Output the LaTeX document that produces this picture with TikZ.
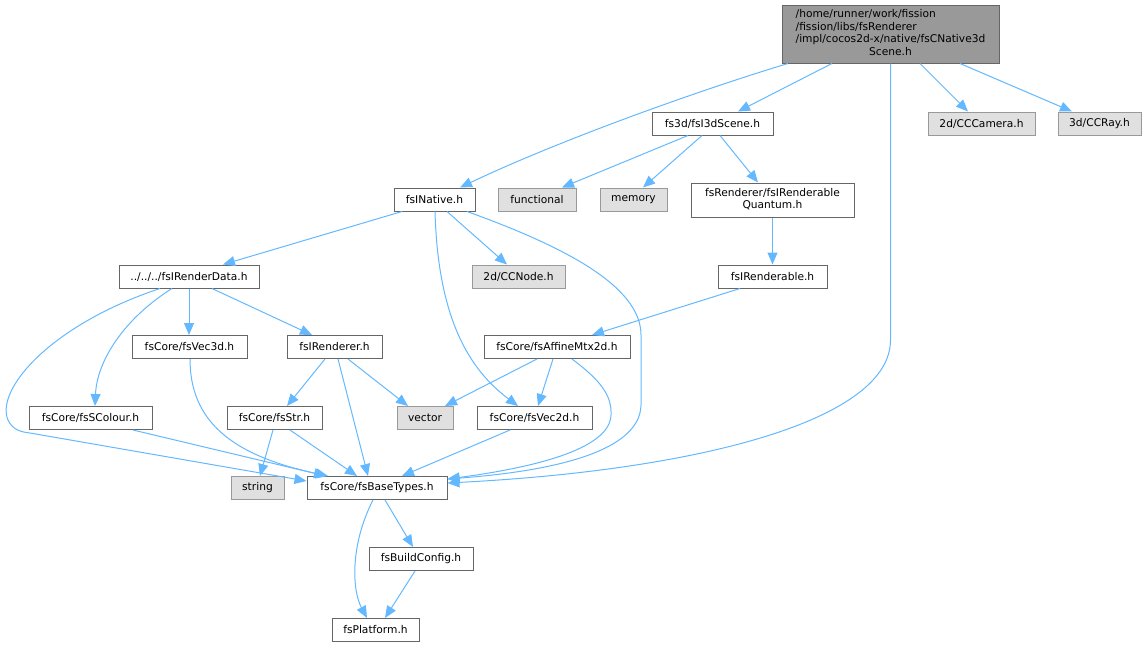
\documentclass[tikz,border=0pt]{standalone}
\usepackage{fontspec}
\setmainfont{DejaVu Sans}
\usetikzlibrary{arrows.meta,calc}
\definecolor{edgec}{HTML}{63B8FF}
\definecolor{bordc}{HTML}{666666}
\definecolor{gbord}{HTML}{999999}
\definecolor{gfill}{HTML}{E0E0E0}
\definecolor{rootfill}{HTML}{999999}
\tikzset{
  box/.style={draw=bordc, fill=white, line width=0.75pt, inner sep=0pt, text=black,
              font=\fontsize{8}{9.3}\selectfont},
  gbox/.style={box, draw=gbord, fill=gfill},
  rbox/.style={box, draw=bordc, fill=rootfill},
  sz/.style 2 args={minimum width=#1*0.75pt, minimum height=#2*0.75pt},
  e/.style={draw=edgec, line width=0.75pt, -{Triangle[length=9pt,width=7.5pt]}},
}
\begin{document}
\begin{tikzpicture}[x=0.75pt,y=-0.75pt]
\useasboundingbox (0,0) rectangle (1147,647);

% nodes
\node[rbox, sz={217}{58}] (root) at (890.5,34) {\begin{tabular}{@{}l@{}}/home/runner/work/fission\\/fission/libs/fsRenderer\\/impl/cocos2d-x/native/fsCNative3d\\\multicolumn{1}{@{}c@{}}{Scene.h}\end{tabular}};
\node[gbox, sz={107}{23}] (cam) at (981.5,123.5) {2d/CCCamera.h};
\node[gbox, sz={83}{23}] (ray) at (1099.5,123.5) {3d/CCRay.h};
\node[box, sz={121}{23}] (scene) at (712.5,123.5) {fs3d/fsI3dScene.h};
\node[box, sz={81}{23}] (native) at (434.5,199.5) {fsINative.h};
\node[gbox, sz={78}{23}] (functional) at (537,199.5) {functional};
\node[gbox, sz={67}{23}] (memory) at (633.5,199.5) {memory};
\node[box, sz={163}{34}] (quantum) at (772.5,200) {\begin{tabular}{@{}l@{}}fsRenderer/fsIRenderable\\\multicolumn{1}{@{}c@{}}{Quantum.h}\end{tabular}};
\node[gbox, sz={93}{23}] (ccnode) at (518.5,276.5) {2d/CCNode.h};
\node[box, sz={109}{23}] (renderable) at (772.5,276.5) {fsIRenderable.h};
\node[box, sz={140}{23}] (renderdata) at (189,276.5) {../../../fsIRenderData.h};
\node[box, sz={115}{23}] (vec3d) at (189.5,347) {fsCore/fsVec3d.h};
\node[box, sz={95}{23}] (renderer) at (334.5,347) {fsIRenderer.h};
\node[box, sz={146}{23}] (affine) at (557,347) {fsCore/fsAffineMtx2d.h};
\node[box, sz={123}{23}] (scolour) at (90.5,418) {fsCore/fsSColour.h};
\node[box, sz={95}{23}] (str) at (274.5,418) {fsCore/fsStr.h};
\node[gbox, sz={56}{23}] (vector) at (425,418) {vector};
\node[box, sz={115}{23}] (vec2d) at (534.5,418) {fsCore/fsVec2d.h};
\node[gbox, sz={53}{23}] (string) at (257.5,488) {string};
\node[box, sz={140}{23}] (base) at (377,488) {fsCore/fsBaseTypes.h};
\node[box, sz={104}{23}] (build) at (421,559) {fsBuildConfig.h};
\node[box, sz={87}{23}] (platform) at (375.5,630) {fsPlatform.h};

% edges from root
\draw[e] ($(root.south)+(-102.5,0)$) .. controls (700,90) and (560,140) .. ($(native.north)+(25.5,0)$);
\draw[e] ($(root.south)+(-58.5,0)$) -- ($(scene.north)+(25.5,0)$);
\draw[e] ($(root.south)+(0,0)$) -- (890.5,340) .. controls (890.5,420) and (700,470) .. ($(base.east)+(0,-5)$);
\draw[e] ($(root.south)+(29.5,0)$) -- ($(cam.north)+(-13.5,0)$);
\draw[e] ($(root.south)+(69.5,0)$) -- ($(ray.north)+(-27.5,0)$);

% scene
\draw[e] ($(scene.south)+(-24.5,0)$) -- ($(functional.north)+(25,0)$);
\draw[e] ($(scene.south)+(-10.5,0)$) -- ($(memory.north)+(9.5,0)$);
\draw[e] ($(scene.south)+(7.5,0)$) -- ($(quantum.north)+(-14.5,0)$);
\draw[e] (quantum.south) -- (renderable.north);
\draw[e] ($(renderable.south)+(-32.5,0)$) -- ($(affine.north)+(35,0)$);

% native
\draw[e] ($(native.south)+(-32.5,0)$) -- ($(renderdata.north)+(34,0)$);
\draw[e] ($(native.south)+(12.5,0)$) -- ($(ccnode.north)+(-11.5,0)$);
\draw[e] ($(native.south)+(0.5,0)$) .. controls (438,320) and (470,370) .. ($(vec2d.north)+(-16.5,0)$);
\draw[e] ($(native.south)+(32.5,0)$) .. controls (560,245) and (641,285) .. (641,335) -- (641,405) .. controls (640,455) and (540,472) .. ($(base.east)+(0,-9)$);

% renderdata
\draw[e] ($(renderdata.south)+(-29,0)$) .. controls (50,325) and (-5,390) .. (8,420) .. controls (12,429) and (20,432) .. (30,433) -- ($(base.west)+(0,-7)$);
\draw[e] ($(renderdata.south)+(-17,0)$) .. controls (125,318) and (97,360) .. ($(scolour.north)+(4.5,0)$);
\draw[e] ($(renderdata.south)+(0,0)$) -- ($(vec3d.north)+(-0.5,0)$);
\draw[e] ($(renderdata.south)+(23,0)$) -- ($(renderer.north)+(-22.5,0)$);

% vec3d, scolour
\draw[e] ($(vec3d.south)+(0.5,0)$) .. controls (190,420) and (230,455) .. ($(base.north)+(-49,0)$);
\draw[e] ($(scolour.south)+(42.5,0)$) -- ($(base.north)+(-51,0)$);

% renderer
\draw[e] ($(renderer.south)+(-9.5,0)$) -- ($(str.north)+(12.5,0)$);
\draw[e] ($(renderer.south)+(13.5,0)$) -- ($(vector.north)+(-17,0)$);
\draw[e] ($(renderer.south)+(3.5,0)$) -- ($(base.north)+(-9,0)$);

% str
\draw[e] ($(str.south)+(-1.5,0)$) -- ($(string.north)+(2.5,0)$);
\draw[e] ($(str.south)+(15.5,0)$) -- ($(base.north)+(-20,0)$);

% affine
\draw[e] ($(affine.south)+(-20,0)$) -- ($(vector.north)+(20,0)$);
\draw[e] ($(affine.south)+(-4,0)$) -- ($(vec2d.north)+(3.5,0)$);
\draw[e] ($(affine.south)+(15,0)$) .. controls (600,380) and (612,395) .. (611,415) .. controls (610,450) and (530,468) .. ($(base.east)+(0,-9)$);

% vec2d
\draw[e] ($(vec2d.south)+(-24.5,0)$) -- ($(base.north)+(25,0)$);

% base
\draw[e] ($(base.south)+(8,0)$) -- ($(build.north)+(-8,0)$);
\draw[e] ($(base.south)+(-4,0)$) .. controls (350,545) and (352,590) .. ($(platform.north)+(-8.5,0)$);
\draw[e] ($(build.south)+(-6,0)$) -- ($(platform.north)+(9.5,0)$);
\end{tikzpicture}
\end{document}
